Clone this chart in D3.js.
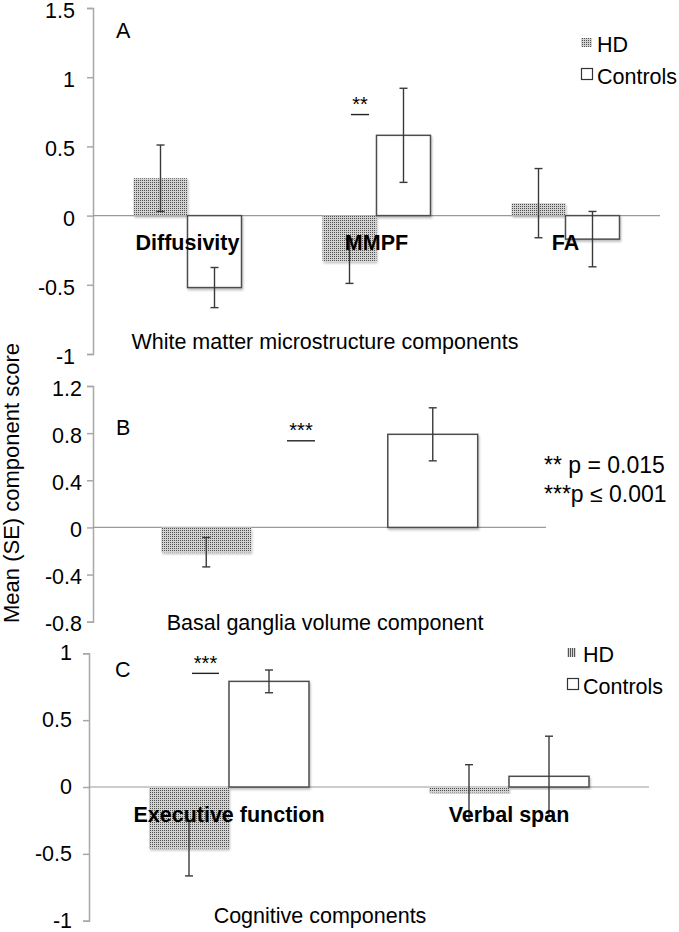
<!DOCTYPE html>
<html><head><meta charset="utf-8">
<script src="https://cdn.jsdelivr.net/npm/d3@7"></script>
<style>
body{margin:0;background:#fff}
text{font-family:"Liberation Sans",Arial,Helvetica,sans-serif;fill:#000}
</style>
</head><body>
<svg id="chart" width="679" height="932"></svg>
<script>
// ---------- data ----------
const seriesNames = ["HD", "Controls"];

const wmCategories = ["Diffusivity", "MMPF", "FA"];
const wmHD = [0.27, -0.33, 0.09];
const wmHDse = [0.24, 0.16, 0.25];
const wmControls = [-0.52, 0.58, -0.17];
const wmControlsSe = [0.145, 0.34, 0.2];
const wmTicks = [-1, -0.5, 0, 0.5, 1, 1.5];

const bgHD = [-0.21];
const bgHDse = [0.125];
const bgControls = [0.79];
const bgControlsSe = [0.225];
const bgTicks = [-0.8, -0.4, 0, 0.4, 0.8, 1.2];

const cogCategories = ["Executive function", "Verbal span"];
const cogHD = [-0.46, -0.04];
const cogHDse = [0.205, 0.207];
const cogControls = [0.79, 0.08];
const cogControlsSe = [0.085, 0.30];
const cogTicks = [-1, -0.5, 0, 0.5, 1];

const yTitle = "Mean (SE) component score";
const pNotes = ["** p = 0.015", "***p \u2264 0.001"];

// ---------- setup ----------
const svg = d3.select("#chart");
const defs = svg.append("defs");
const dots = defs.append("pattern").attr("id", "dots").attr("patternUnits", "userSpaceOnUse")
  .attr("width", 2).attr("height", 2);
dots.append("rect").attr("width", 2).attr("height", 2).attr("fill", "#d2d2d2");
dots.append("rect").attr("width", 1).attr("height", 1).attr("fill", "#505050");
const vl = defs.append("pattern").attr("id", "vlines").attr("patternUnits", "userSpaceOnUse")
  .attr("width", 2).attr("height", 2);
vl.append("rect").attr("width", 2).attr("height", 2).attr("fill", "#d8d8d8");
vl.append("rect").attr("width", 1).attr("height", 2).attr("fill", "#555");
const sh = defs.append("filter").attr("id", "shadow").attr("x", "-10%").attr("y", "-10%")
  .attr("width", "130%").attr("height", "130%");
sh.append("feDropShadow").attr("dx", 1).attr("dy", 2).attr("stdDeviation", 1.2)
  .attr("flood-color", "#000").attr("flood-opacity", 0.25);

const FS = 21.5;
function text(g, x, y, s, o = {}) {
  return g.append("text").attr("x", x).attr("y", y).text(s)
    .attr("font-size", o.size || FS)
    .attr("font-weight", o.bold ? "bold" : null)
    .attr("text-anchor", o.anchor || "start");
}

const panels = [
  { letter: "A", x: [93, 660], y: [354, 8], domain: [-1, 1.5], ticks: wmTicks, pad: 12, tdy: "0.44em",
    cats: wmCategories, hd: wmHD, hdSe: wmHDse, ctrl: wmControls, ctrlSe: wmControlsSe,
    letterXY: [116, 38], subtitle: "White matter microstructure components", subXY: [325, 349],
    labelDy: 34, legend: { x: 581, y: 38, pat: "dots", w: 11 },
    sig: { cat: "MMPF", stars: "**", v: 0.73, off: [-25.5, -7.5] } },
  { letter: "B", x: [93, 546], y: [621.7, 386], domain: [-0.8, 1.2], ticks: bgTicks, pad: 5, tdy: "0.42em",
    cats: null, hd: bgHD, hdSe: bgHDse, ctrl: bgControls, ctrlSe: bgControlsSe,
    letterXY: [116, 435], subtitle: "Basal ganglia volume component", subXY: [325, 630],
    sig: { cat: null, stars: "***", v: 0.735, off: [-32.5, -4.5] } },
  { letter: "C", x: [89, 649], y: [920.7, 653.3], domain: [-1, 1], ticks: cogTicks, pad: 11, tdy: "0.3em",
    cats: cogCategories, hd: cogHD, hdSe: cogHDse, ctrl: cogControls, ctrlSe: cogControlsSe,
    letterXY: [115, 677], subtitle: "Cognitive components", subXY: [320, 923],
    labelDy: 35, legend: { x: 567, y: 648, pat: "vlines", w: 9 },
    sig: { cat: "Executive function", stars: "***", v: 0.85, off: [-37, -10] } }
];

panels.forEach(p => {
  const g = svg.append("g");
  const y = d3.scaleLinear().domain(p.domain).range(p.y);
  const axis = d3.axisLeft(y).tickValues(p.ticks).tickSize(6).tickPadding(p.pad)
    .tickFormat(d => String(d));
  const ag = g.append("g").attr("transform", `translate(${p.x[0]},0)`).call(axis);
  ag.select(".domain").attr("stroke", "#a8a8a8").attr("stroke-width", 1.5);
  ag.selectAll(".tick line").attr("stroke", "#a8a8a8").attr("stroke-width", 1.5);
  ag.selectAll(".tick text").attr("font-size", FS).attr("fill", "#000")
    .attr("font-family", '"Liberation Sans",Arial,Helvetica,sans-serif').attr("dy", p.tdy);

  // zero line
  g.append("line").attr("x1", p.x[0]).attr("x2", p.x[1]).attr("y1", y(0)).attr("y2", y(0))
    .attr("stroke", "#9a9a9a").attr("stroke-width", 1.2);

  // bars
  let bars = [];
  let centerOf;
  if (p.cats) {
    const x = d3.scaleBand().domain(p.cats).range(p.x);
    const bw = x.bandwidth(), w = bw * 0.2857;
    const x1 = d3.scaleBand().domain(seriesNames).range([bw / 2 - w, bw / 2 + w]);
    centerOf = c => x(c) + bw / 2;
    p.cats.forEach((c, i) => {
      bars.push({ s: "HD", v: p.hd[i], se: p.hdSe[i], x: x(c) + x1("HD"), w: x1.bandwidth() });
      bars.push({ s: "Controls", v: p.ctrl[i], se: p.ctrlSe[i], x: x(c) + x1("Controls"), w: x1.bandwidth() });
    });
  } else {
    const x = d3.scaleBand().domain(seriesNames).range(p.x);
    const bw = x.bandwidth(), w = bw * 0.397;
    centerOf = () => (p.x[0] + p.x[1]) / 2;
    bars.push({ s: "HD", v: p.hd[0], se: p.hdSe[0], x: x("HD") + (bw - w) / 2, w: w });
    bars.push({ s: "Controls", v: p.ctrl[0], se: p.ctrlSe[0], x: x("Controls") + (bw - w) / 2, w: w });
  }

  g.selectAll("rect.bar").data(bars).join("rect").attr("class", "bar")
    .attr("x", d => d.x).attr("width", d => d.w)
    .attr("y", d => Math.min(y(d.v), y(0))).attr("height", d => Math.abs(y(d.v) - y(0)))
    .attr("fill", d => d.s === "HD" ? "url(#dots)" : "#fff")
    .attr("stroke", d => d.s === "HD" ? "none" : "#4d4d4d")
    .attr("stroke-width", 1.5)
    .attr("filter", "url(#shadow)");

  // error bars
  const eg = g.append("g").attr("stroke", "#3a3a3a").attr("stroke-width", 1.4);
  bars.forEach(d => {
    const cx = d.x + d.w / 2, t = y(d.v + d.se), b = y(d.v - d.se);
    eg.append("line").attr("x1", cx).attr("x2", cx).attr("y1", t).attr("y2", b);
    eg.append("line").attr("x1", cx - 4).attr("x2", cx + 4).attr("y1", t).attr("y2", t);
    eg.append("line").attr("x1", cx - 4).attr("x2", cx + 4).attr("y1", b).attr("y2", b);
  });

  // category labels
  if (p.cats) {
    p.cats.forEach(c => text(g, centerOf(c), y(0) + p.labelDy, c, { bold: true, anchor: "middle" }));
  }

  // panel letter & subtitle
  text(g, p.letterXY[0], p.letterXY[1], p.letter);
  text(g, p.subXY[0], p.subXY[1], p.subtitle, { anchor: "middle" });

  // significance
  const sc = centerOf(p.sig.cat), sy = y(p.sig.v);
  g.append("line").attr("x1", sc + p.sig.off[0]).attr("x2", sc + p.sig.off[1])
    .attr("y1", sy).attr("y2", sy).attr("stroke", "#222").attr("stroke-width", 1.4);
  text(g, sc + (p.sig.off[0] + p.sig.off[1]) / 2, sy - 3.5, p.sig.stars, { anchor: "middle", size: 20 });

  // legend
  if (p.legend) {
    const L = p.legend;
    g.append("rect").attr("x", L.x).attr("y", L.y).attr("width", L.w).attr("height", 9)
      .attr("fill", `url(#${L.pat})`);
    text(g, L.x + 16, L.y + 14, seriesNames[0]);
    g.append("rect").attr("x", L.x + 0.5).attr("y", L.y + 30.5).attr("width", 11).attr("height", 11)
      .attr("fill", "#fff").attr("stroke", "#333").attr("stroke-width", 1.2);
    text(g, L.x + 16, L.y + 46, seriesNames[1]);
  }
});

// y axis title
svg.append("text").attr("transform", "translate(19,483) rotate(-90)")
  .attr("text-anchor", "middle").attr("font-size", 22).text(yTitle);

// p-value notes
pNotes.forEach((s, i) => text(svg, 544, 473 + i * 29, s, { size: 23 }));
</script>
</body></html>
